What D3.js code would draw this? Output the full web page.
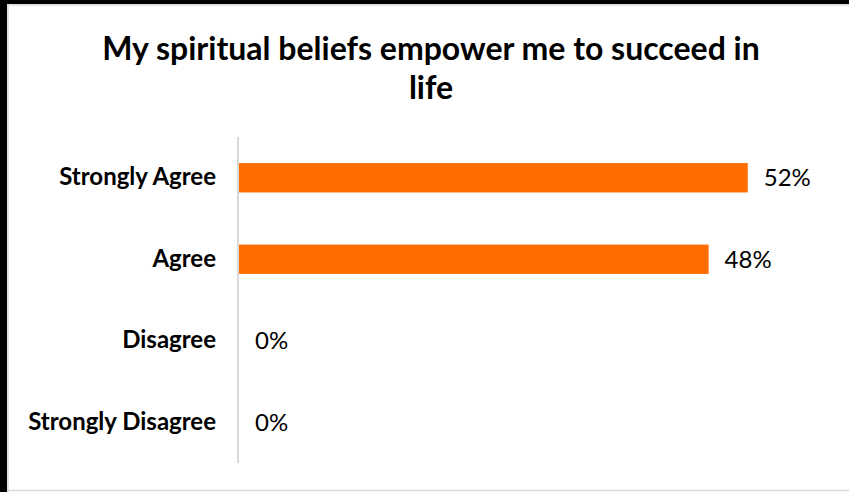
<!DOCTYPE html>
<html>
<head>
<meta charset="utf-8">
<script src="https://cdn.jsdelivr.net/npm/d3@7"></script>
<style>
  html, body { margin: 0; padding: 0; background: #fff; overflow: hidden; }
  svg { display: block; }
  text { font-family: Lato, "Open Sans", sans-serif; }
</style>
</head>
<body>
<svg id="chart" width="849" height="492"></svg>
<script>
// Survey responses
const categories = ["Strongly Agree", "Agree", "Disagree", "Strongly Disagree"];
const values = [0.52, 0.48, 0, 0];
const titleLines = ["My spiritual beliefs empower me to succeed in", "life"];

const W = 849, H = 492;
const svg = d3.select("#chart");

// frame: heavy dark edge on left/top, thin light inner edge
svg.append("rect").attr("x", 0).attr("y", 0).attr("width", W).attr("height", H).attr("fill", "#fff");
svg.append("rect").attr("x", 0).attr("y", 0).attr("width", 7).attr("height", H).attr("fill", "#000");
svg.append("rect").attr("x", 0).attr("y", 0).attr("width", W).attr("height", 4).attr("fill", "#000");
const edge = svg.append("g").attr("stroke", "#d9d9d9").attr("stroke-width", 1.5);
edge.append("line").attr("x1", 8).attr("x2", 8).attr("y1", 4).attr("y2", H);
edge.append("line").attr("x1", 7).attr("x2", W).attr("y1", 5).attr("y2", 5);
edge.append("line").attr("x1", 7).attr("x2", W).attr("y1", 490.5).attr("y2", 490.5);

// title
svg.append("g").selectAll("text").data(titleLines).join("text")
  .attr("x", 431).attr("y", (d, i) => 60 + i * 39)
  .attr("text-anchor", "middle")
  .attr("font-size", 32).attr("font-weight", "bold").attr("fill", "#000")
  .text(d => d);

const x = d3.scaleLinear().domain([0, 0.6]).range([239, 826]);
const y = d3.scaleBand().domain(categories).range([137, 463]).paddingInner(0.64).paddingOuter(0.32);

// bars
svg.append("g").selectAll("rect").data(categories).join("rect")
  .attr("x", x(0))
  .attr("y", d => y(d))
  .attr("width", (d, i) => x(values[i]) - x(0))
  .attr("height", y.bandwidth())
  .attr("fill", "#ff6d01");

// category axis
const yAxis = svg.append("g").attr("transform", `translate(${x(0) - 1},0)`)
  .call(d3.axisLeft(y).tickSize(0).tickPadding(22));
yAxis.select(".domain").attr("stroke", "#d9d9d9").attr("stroke-width", 2)
  .attr("d", "M0,137V463");
yAxis.selectAll(".tick text")
  .attr("font-family", "Lato, 'Open Sans', sans-serif")
  .attr("font-size", 24).attr("font-weight", "bold").attr("fill", "#000");

// value labels
svg.append("g").selectAll("text").data(categories).join("text")
  .attr("x", (d, i) => x(values[i]) + 16)
  .attr("y", d => y(d) + y.bandwidth() / 2)
  .attr("dy", "0.36em")
  .attr("font-size", 24).attr("fill", "#000")
  .text((d, i) => d3.format(".0%")(values[i]));
</script>
</body>
</html>
